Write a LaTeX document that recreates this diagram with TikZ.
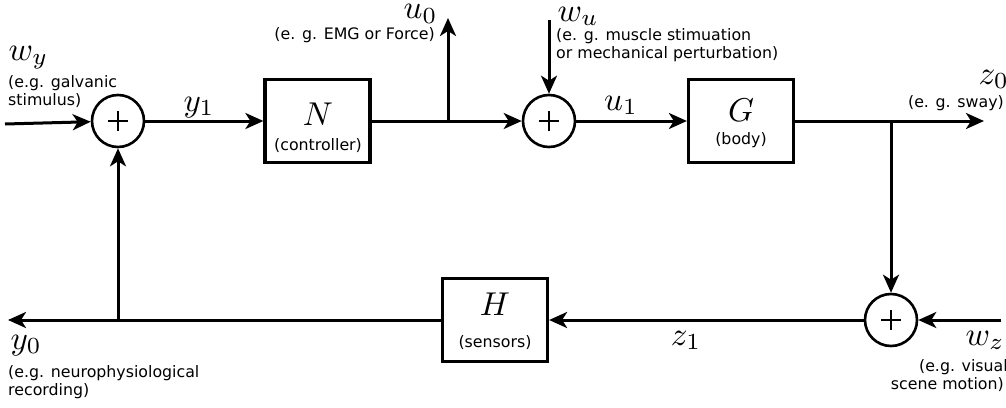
\documentclass[tikz,border=0pt]{standalone}
\usepackage{fontspec}
\setsansfont{DejaVu Sans}
\usetikzlibrary{arrows.meta}
\begin{document}
\begin{tikzpicture}[x=1pt,y=-1pt,
  sumnode/.style={circle,draw,line width=2.6pt,minimum size=52pt,inner sep=0pt,
    path picture={\draw[line width=2pt]
      ([xshift=-10pt]path picture bounding box.center) -- ([xshift=10pt]path picture bounding box.center)
      ([yshift=-10pt]path picture bounding box.center) -- ([yshift=10pt]path picture bounding box.center);}},
  blk/.style={draw,line width=3.2pt,inner sep=0pt,minimum width=105pt,minimum height=83pt},
  conn/.style={line width=3pt,-{Stealth[length=18pt,width=16pt,inset=5pt]}},
  wire/.style={line width=3pt},
  mlab/.style={inner sep=0pt,font=\normalsize,scale=3.3},
  slab/.style={inner sep=0pt,font=\sffamily\fontsize{15.8}{18}\selectfont},
]
\useasboundingbox (0,0) rectangle (1006,407);
% blocks and summing junctions
\node[sumnode] (s1) at (118,121) {};
\node[sumnode] (s2) at (549,121) {};
\node[sumnode] (s3) at (891,320) {};
\node[blk] (N) at (317.5,121) {};
\node[blk] (G) at (741,121) {};
\node[blk] (H) at (495,320) {};
\node[mlab,anchor=base] (Nt) at (318,125) {$N$};
\node[slab,anchor=base] (Nc) at (318,150) {(controller)};
\node[mlab,anchor=base] (Gt) at (741,121) {$G$};
\node[slab,anchor=base] (Gc) at (741,144) {(body)};
\node[mlab,anchor=base] (Ht) at (495,315) {$H$};
\node[slab,anchor=base] (Hc) at (495,347) {(sensors)};
% coordinates
\coordinate (wy) at (5,124);
\coordinate (j1) at (448,121);
\coordinate (u0) at (448,18);
\coordinate (wu) at (549,20);
\coordinate (j2) at (891,121);
\coordinate (z0) at (984,121);
\coordinate (wz) at (1001,320);
\coordinate (j3) at (118,320);
\coordinate (y0) at (8,320);
% connectors
\draw[conn] (wy) -- (s1);
\draw[conn] (s1) -- (N);
\draw[wire] (N.east) -- (j1);
\draw[conn] (j1) -- (s2);
\draw[conn] (j1) -- (u0);
\draw[conn] (wu) -- (s2);
\draw[conn] (s2) -- (G);
\draw[wire] (G.east) -- (j2);
\draw[conn] (j2) -- (z0);
\draw[conn] (j2) -- (s3);
\draw[conn] (wz) -- (s3);
\draw[conn] (s3) -- (H);
\draw[wire] (H.west) -- (j3);
\draw[conn] (j3) -- (y0);
\draw[conn] (j3) -- (s1);
% labels
\node[mlab,anchor=base west] (wyl) at (8,60) {$w_y$};
\node[slab,anchor=base west] (wyd1) at (8,87) {(e.g. galvanic};
\node[slab,anchor=base west] (wyd2) at (8,105) {stimulus)};
\node[mlab,anchor=base] (y1l) at (199,111) {$y_1$};
\node[mlab,anchor=base west] (u0l) at (403,18.5) {$u_0$};
\node[slab,anchor=base east] (u0d) at (435,39) {(e. g. EMG or Force)};
\node[mlab,anchor=base west] (wul) at (557,21) {$w_u$};
\node[slab,anchor=base west] (wud1) at (556,40.5) {(e. g. muscle stimuation};
\node[slab,anchor=base west] (wud2) at (556,58.5) {or mechanical perturbation)};
\node[mlab,anchor=base] (u1l) at (621,110) {$u_1$};
\node[mlab,anchor=base west] (z0l) at (978,84) {$z_0$};
\node[slab,anchor=base east] (z0d) at (1004,107) {(e. g. sway)};
\node[mlab,anchor=base] (z1l) at (686,345) {$z_1$};
\node[mlab,anchor=base west] (wzl) at (965,345) {$w_z$};
\node[slab,anchor=base east] (wzd1) at (1008,371) {(e.g. visual};
\node[slab,anchor=base east] (wzd2) at (1004,389) {scene motion)};
\node[mlab,anchor=base west] (y0l) at (10,349) {$y_0$};
\node[slab,anchor=base west] (y0d1) at (8,377) {(e.g. neurophysiological};
\node[slab,anchor=base west] (y0d2) at (8,395) {recording)};
\end{tikzpicture}
\end{document}
